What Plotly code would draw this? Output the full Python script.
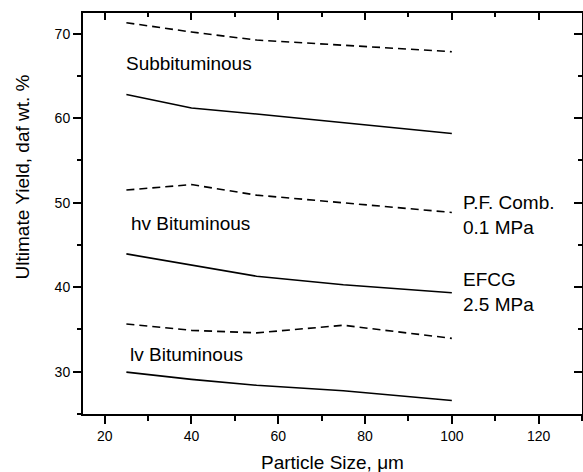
import plotly.graph_objects as go

particle_size = [25, 40, 55, 75, 100]

sub_pf = [71.3, 70.2, 69.25, 68.65, 67.87]
sub_efcg = [62.8, 61.2, 60.5, 59.45, 58.2]
hv_pf = [51.5, 52.15, 50.9, 49.95, 48.85]
hv_efcg = [43.95, 42.6, 41.3, 40.3, 39.35]
lv_pf = [35.65, 34.9, 34.6, 35.5, 33.95]
lv_efcg = [29.95, 29.1, 28.4, 27.75, 26.6]

series = [
    (sub_pf, "dash"), (sub_efcg, "solid"),
    (hv_pf, "dash"), (hv_efcg, "solid"),
    (lv_pf, "dash"), (lv_efcg, "solid"),
]

labels = [
    ("Subbituminous", 24.5, 66.5),
    ("hv Bituminous", 25.6, 47.6),
    ("lv Bituminous", 25.4, 32.1),
    ("P.F. Comb.<br>0.1 MPa", 102.1, 48.55),
    ("EFCG<br>2.5 MPa", 102.1, 39.43),
]

x_title = "Particle Size, \u03bcm"
y_title = "Ultimate Yield, daf wt. %"

x_range = [15, 130]
y_range = [25, 72.45]

FONT = "Liberation Sans, Arial, Helvetica, sans-serif"

fig = go.Figure()
for ys, style in series:
    fig.add_trace(go.Scatter(
        x=particle_size, y=ys, mode="lines",
        line=dict(color="black", width=1.6,
                  dash="8px,5px" if style == "dash" else "solid"),
        showlegend=False, hoverinfo="skip",
    ))
# dummy trace to activate the mirror (top/right) axes
fig.add_trace(go.Scatter(x=[None], y=[None], xaxis="x2", yaxis="y2",
                         showlegend=False, hoverinfo="skip"))

for text, xv, yv in labels:
    fig.add_annotation(x=xv, y=yv, xref="x", yref="y", text=text,
                       showarrow=False, xanchor="left", yanchor="middle",
                       align="left", font=dict(size=19, color="black", family=FONT))

# axis titles as annotations (pixel-placed like the reference)
fig.add_annotation(x=0.5, y=-48 / 401, xref="paper", yref="paper", text=x_title,
                   showarrow=False, xanchor="center", yanchor="middle",
                   font=dict(size=19, color="black", family=FONT))
fig.add_annotation(x=-61 / 499, y=0.59, xref="paper", yref="paper", text=y_title,
                   showarrow=False, xanchor="center", yanchor="middle", textangle=-90,
                   font=dict(size=19, color="black", family=FONT))

common = dict(showgrid=False, zeroline=False, showline=True, linecolor="black",
              linewidth=2, tickcolor="black", tickwidth=1.5)

fig.update_layout(
    width=583, height=472,
    margin=dict(l=83, r=1, t=13, b=58),
    plot_bgcolor="white", paper_bgcolor="white",
    font=dict(family=FONT, color="black"),
    xaxis=dict(range=x_range, dtick=20, tick0=0, ticks="outside", ticklen=8,
               minor=dict(dtick=10, tick0=0, ticks="outside", ticklen=4.5,
                          tickcolor="black", tickwidth=1.5),
               tickfont=dict(size=14),
               **common),
    yaxis=dict(range=y_range, dtick=10, tick0=0, ticks="outside", ticklen=8,
               minor=dict(dtick=5, tick0=0, ticks="outside", ticklen=4.5,
                          tickcolor="black", tickwidth=1.5),
               tickfont=dict(size=14),
               **common),
    xaxis2=dict(range=x_range, dtick=20, tick0=0, ticks="inside", ticklen=7,
                minor=dict(dtick=10, tick0=0, ticks="inside", ticklen=4,
                           tickcolor="black", tickwidth=1.5),
                overlaying="x", side="top", anchor="y", showticklabels=False,
                **common),
    yaxis2=dict(range=y_range, dtick=10, tick0=0, ticks="inside", ticklen=8,
                minor=dict(dtick=5, tick0=0, ticks="inside", ticklen=4,
                           tickcolor="black", tickwidth=1.5),
                overlaying="y", side="right", anchor="x", showticklabels=False,
                **common),
)

fig.write_html("out.html")
